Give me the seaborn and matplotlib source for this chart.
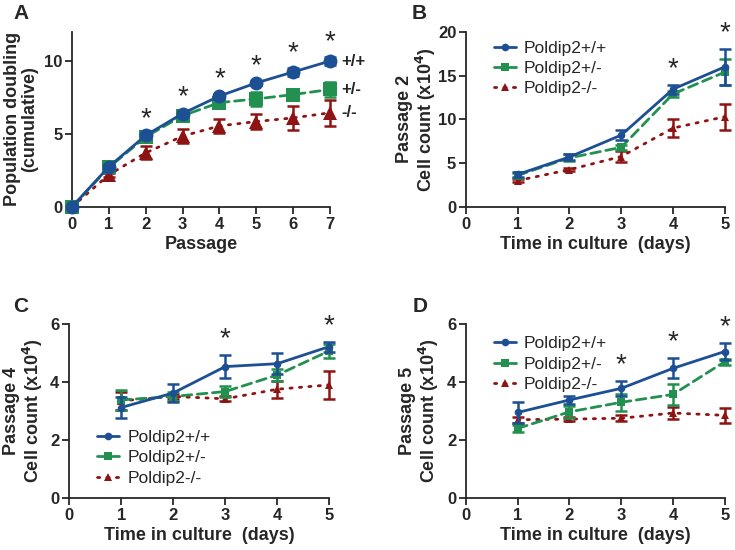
import pandas as pd
import seaborn as sns
import matplotlib.pyplot as plt
import numpy as np

# Data
passage = [0, 1, 2, 3, 4, 5, 6, 7]
a_wt = [0, 2.75, 4.9, 6.4, 7.6, 8.5, 9.25, 10.0]
a_wt_err = [0, 0.1, 0.1, 0.1, 0.15, 0.15, 0.3, 0.3]
a_het = [0, 2.7, 4.8, 6.25, 7.15, 7.4, 7.7, 8.05]
a_het_err = [0, 0.1, 0.15, 0.15, 0.3, 0.45, 0.4, 0.5]
a_ko = [0, 2.2, 3.7, 4.85, 5.55, 5.85, 6.1, 6.45]
a_ko_err = [0, 0.15, 0.45, 0.5, 0.5, 0.5, 0.8, 0.9]
a_stars = [2, 3, 4, 5, 6, 7]

days = [1, 2, 3, 4, 5]
b_wt = [3.7, 5.7, 8.2, 13.45, 16.0]
b_wt_err = [0.3, 0.3, 0.6, 0.5, 2.1]
b_het = [3.6, 5.6, 6.8, 12.9, 15.4]
b_het_err = [0.3, 0.4, 0.3, 0.3, 1.5]
b_ko = [3.0, 4.25, 5.75, 9.0, 10.3]
b_ko_err = [0.2, 0.2, 0.6, 1.0, 1.5]
b_stars = [4, 5]

c_wt = [3.12, 3.62, 4.53, 4.63, 5.22]
c_wt_err = [0.35, 0.3, 0.4, 0.37, 0.17]
c_het = [3.38, 3.5, 3.67, 4.24, 5.07]
c_het_err = [0.35, 0.15, 0.2, 0.2, 0.25]
c_ko = [3.35, 3.5, 3.42, 3.75, 3.9]
c_ko_err = [0.3, 0.1, 0.08, 0.3, 0.47]
c_stars = [3, 5]

d_wt = [2.95, 3.38, 3.78, 4.47, 5.05]
d_wt_err = [0.35, 0.15, 0.25, 0.35, 0.3]
d_het = [2.4, 2.97, 3.3, 3.57, 4.7]
d_het_err = [0.12, 0.2, 0.3, 0.35, 0.1]
d_ko = [2.7, 2.72, 2.75, 2.93, 2.85]
d_ko_err = [0.1, 0.08, 0.1, 0.2, 0.27]
d_stars = [3, 4, 5]

labels = ['Poldip2+/+', 'Poldip2+/-', 'Poldip2-/-']
colors = ['#1c4f93', '#22904f', '#8e1414']
styles = ['-', (0, (3.5, 2)), (0, (0.8, 2.6))]
marks = ['o', 's', '^']

sns.set_style('ticks')
plt.rcParams['font.family'] = ['Liberation Sans', 'DejaVu Sans']
plt.rcParams['font.weight'] = 'bold'
plt.rcParams['axes.labelweight'] = 'bold'
plt.rcParams['lines.dash_capstyle'] = 'round'

fig = plt.figure(figsize=(7.35, 5.5), dpi=100)
axA = fig.add_axes([0.098, 0.624, 0.351, 0.318])
axB = fig.add_axes([0.634, 0.624, 0.352, 0.318])
axC = fig.add_axes([0.094, 0.0945, 0.354, 0.3165])
axD = fig.add_axes([0.634, 0.0945, 0.352, 0.3165])


def draw(ax, x, series, errs, msize, lw):
    for i, (y, e) in enumerate(zip(series, errs)):
        df = pd.DataFrame({'x': x, 'y': y})
        sns.lineplot(data=df, x='x', y='y', ax=ax, color=colors[i],
                     linestyle=styles[i], linewidth=lw, marker=marks[i],
                     markersize=msize, markeredgewidth=0, label=labels[i],
                     clip_on=False, zorder=3 - i * 0.1)
        ax.errorbar(x, y, yerr=e, fmt='none', ecolor=colors[i], elinewidth=1.8,
                    capsize=4, capthick=1.8, clip_on=False, zorder=3 - i * 0.1)


def style(ax, xmax, ymax, yticks, ylabel, xlabel, ypad=4):
    ax.set_xlim(0, xmax)
    ax.set_ylim(0, ymax)
    ax.set_xticks(range(0, xmax + 1))
    ax.set_yticks(yticks)
    ax.set_ylabel(ylabel, fontsize=13, labelpad=ypad, linespacing=1.05)
    ax.set_xlabel(xlabel, fontsize=13, labelpad=3)
    for s in ['left', 'bottom']:
        ax.spines[s].set_linewidth(1.3)
    sns.despine(ax=ax)
    ax.tick_params(width=1.3, length=5, labelsize=12, pad=2)
    for t in ax.get_xticklabels() + ax.get_yticklabels():
        t.set_fontweight('bold')


def stars(ax, xs, ys):
    for x, y in zip(xs, ys):
        ax.text(x, y, '*', ha='center', va='bottom', fontsize=20,
                fontweight='normal', clip_on=False)


def legend(ax, **kw):
    ax.legend(frameon=False, prop={'size': 12.5, 'weight': 'normal'},
              handlelength=1.3, handletextpad=0.45, labelspacing=0.3,
              borderaxespad=0, **kw)


# Panel A
draw(axA, passage, [a_wt, a_het, a_ko], [a_wt_err, a_het_err, a_ko_err], 10, 2.0)
style(axA, 7, 12, [0, 5, 10], 'Population doubling\n(cumulative)', 'Passage')
axA.get_legend().remove()
stars(axA, a_stars, [a_wt[p] + a_wt_err[p] + 0.1 for p in a_stars])
for txt, y in zip(['+/+', '+/-', '-/-'], [a_wt[-1], a_het[-1], a_ko[-1]]):
    axA.text(7.3, y, txt, ha='left', va='center', fontsize=12, fontweight='bold')

# Panel B
draw(axB, days, [b_wt, b_het, b_ko], [b_wt_err, b_het_err, b_ko_err], 5.5, 2.0)
style(axB, 5, 20, [0, 5, 10, 15, 20], 'Passage 2\nCell count (x10$^\\mathbf{4}$)',
      'Time in culture  (days)', ypad=0)
stars(axB, b_stars, [b_wt[d - 1] + b_wt_err[d - 1] + 0.3 for d in b_stars])
legend(axB, loc='upper left', bbox_to_anchor=(0.08, 0.99))

# Panel C
draw(axC, days, [c_wt, c_het, c_ko], [c_wt_err, c_het_err, c_ko_err], 5.5, 2.0)
style(axC, 5, 6, [0, 2, 4, 6], 'Passage 4\nCell count (x10$^\\mathbf{4}$)',
      'Time in culture  (days)')
stars(axC, c_stars, [c_wt[d - 1] + c_wt_err[d - 1] + 0.1 for d in c_stars])
legend(axC, loc='lower left', bbox_to_anchor=(0.08, 0.03))

# Panel D
draw(axD, days, [d_wt, d_het, d_ko], [d_wt_err, d_het_err, d_ko_err], 5.5, 2.0)
style(axD, 5, 6, [0, 2, 4, 6], 'Passage 5\nCell count (x10$^\\mathbf{4}$)',
      'Time in culture  (days)')
stars(axD, d_stars, [d_wt[d - 1] + d_wt_err[d - 1] + 0.1 for d in d_stars])
legend(axD, loc='upper left', bbox_to_anchor=(0.08, 0.97))

# Panel letters
for txt, x, y in [('A', 0.018, 0.975), ('B', 0.56, 0.975), ('C', 0.018, 0.442), ('D', 0.562, 0.442)]:
    fig.text(x, y, txt, fontsize=15, fontweight='bold', ha='left', va='center')

fig.savefig('out.png', dpi=100)
